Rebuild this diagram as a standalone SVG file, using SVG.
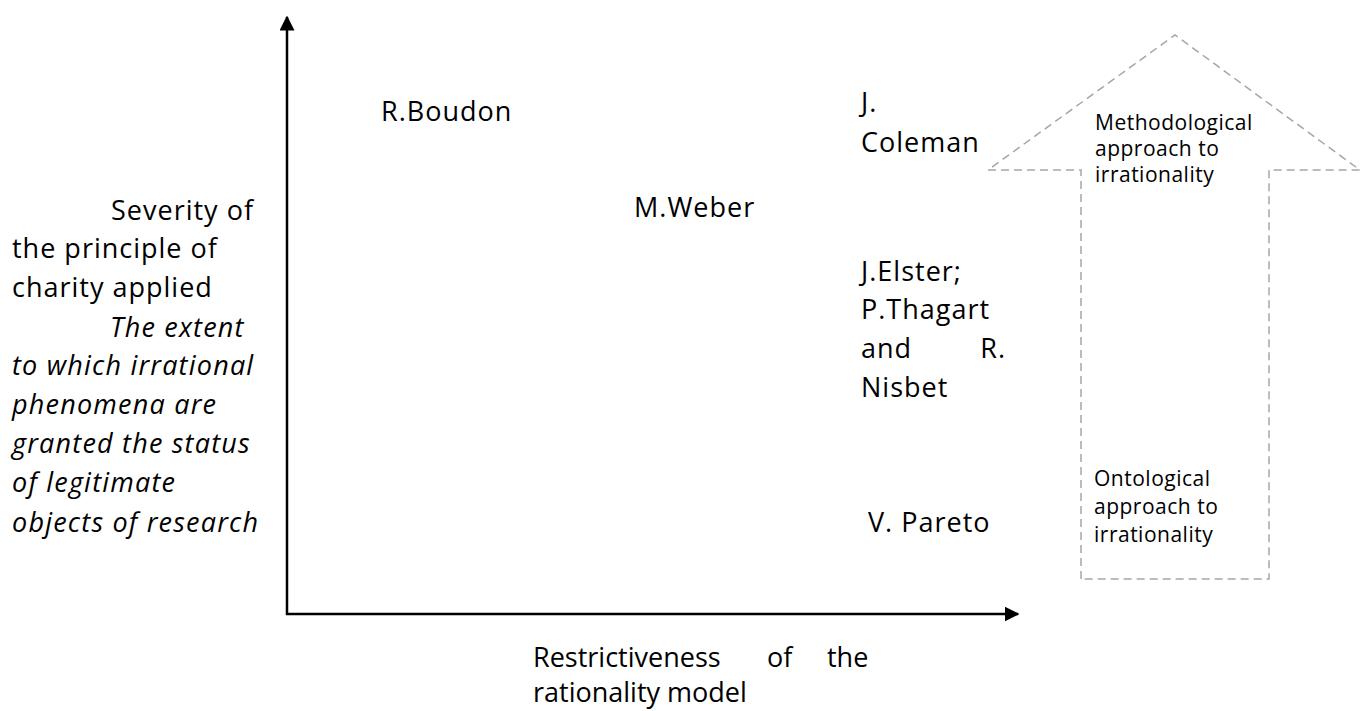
<svg xmlns="http://www.w3.org/2000/svg" width="1363" height="711" viewBox="0 0 1363 711">
<defs>
<style>
.t{font-family:"Open Sans","Noto Sans","Liberation Sans",sans-serif;font-size:27px;fill:#000;letter-spacing:1px;}
.i{font-style:italic;letter-spacing:1.2px;}
.b{letter-spacing:0;}
.s{font-family:"Open Sans","Noto Sans","Liberation Sans",sans-serif;font-size:21px;fill:#000;letter-spacing:0.5px;}
.axis{stroke:#000;stroke-width:2.5;fill:none;}
.dash{stroke:#a6a6a6;stroke-width:1.5;stroke-dasharray:8 5;fill:#fff;}
</style>
<marker id="ah" viewBox="0 0 10 10" refX="9" refY="5" markerWidth="6" markerHeight="6" markerUnits="strokeWidth" orient="auto">
<path d="M0,0 L10,5 L0,10 Z" fill="#000"/>
</marker>
</defs>
<rect width="1363" height="711" fill="#fff"/>
<g id="connectors">
<line class="axis" x1="287" y1="615" x2="287" y2="17" marker-end="url(#ah)"/>
<line class="axis" x1="286" y1="614" x2="1018" y2="614" marker-end="url(#ah)"/>
</g>
<g id="approach-arrow">
<polygon class="dash" points="1081,579 1081,170 988,170 1175,35 1360,170 1269,170 1269,579"/>
<text class="s" x="1095" y="130">Methodological</text>
<text class="s" x="1095" y="156">approach to</text>
<text class="s" x="1095" y="182">irrationality</text>
<text class="s" x="1094" y="486">Ontological</text>
<text class="s" x="1094" y="514">approach to</text>
<text class="s" x="1094" y="542">irrationality</text>
</g>
<g id="y-label">
<text class="t" x="254" y="220" text-anchor="end">Severity of</text>
<text class="t" x="12" y="258">the principle of</text>
<text class="t" x="12" y="297">charity applied</text>
<text class="t i" x="110" y="337">The extent</text>
<text class="t i" x="12" y="375">to which irrational</text>
<text class="t i" x="12" y="414">phenomena are</text>
<text class="t i" x="12" y="453">granted the status</text>
<text class="t i" x="12" y="492">of legitimate</text>
<text class="t i" x="12" y="532">objects of research</text>
</g>
<g id="x-label">
<text class="t b" x="533" y="667">Restrictiveness</text>
<text class="t b" x="767" y="667">of</text>
<text class="t b" x="827" y="667">the</text>
<text class="t b" x="533" y="702">rationality model</text>
</g>
<g id="boudon"><text class="t" x="381" y="121">R.Boudon</text></g>
<g id="coleman">
<text class="t" x="861" y="112">J.</text>
<text class="t" x="861" y="152">Coleman</text>
</g>
<g id="weber"><text class="t" x="634" y="217">M.Weber</text></g>
<g id="elster">
<text class="t" x="861" y="281">J.Elster;</text>
<text class="t" x="861" y="319">P.Thagart</text>
<text class="t" x="861" y="358">and</text>
<text class="t" x="1006" y="358" text-anchor="end">R.</text>
<text class="t" x="861" y="397">Nisbet</text>
</g>
<g id="pareto"><text class="t" x="868" y="532">V. Pareto</text></g>
</svg>
